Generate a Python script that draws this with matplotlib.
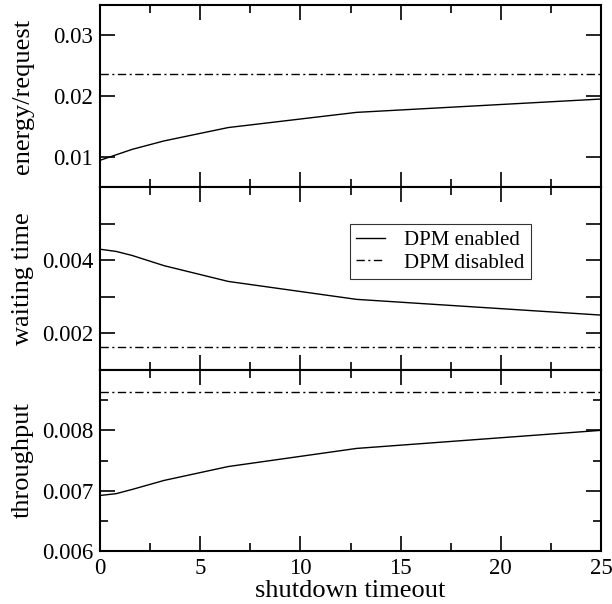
import numpy as np
import matplotlib.pyplot as plt
from matplotlib.ticker import MultipleLocator

plt.rcParams["font.family"] = ["Liberation Serif", "DejaVu Serif"]
plt.rcParams["font.size"] = 16.5

# ---------------------------------------------------------------------------
# Data
# ---------------------------------------------------------------------------
timeout = [0, 0.8, 1.6, 3.2, 6.4, 12.8, 25]

energy_on = [0.0094, 0.0103, 0.0112, 0.0126, 0.0148, 0.0173, 0.0195]
energy_off = 0.0236

wait_on = [0.00430, 0.00424, 0.00413, 0.00385, 0.00342, 0.00293, 0.00250]
wait_off = 0.00162

thru_on = [0.00692, 0.00695, 0.00702, 0.00717, 0.00740, 0.00770, 0.00800]
thru_off = 0.00864

# label, enabled, disabled, ylim, y tick step, minor step, labelled ticks
panels = [
    ("energy/request", energy_on, energy_off, (0.005, 0.035), 0.01, None,
     [0.01, 0.02, 0.03], "{:.2f}"),
    ("waiting time", wait_on, wait_off, (0.001, 0.006), 0.001, None,
     [0.002, 0.004], "{:.3f}"),
    ("throughput", thru_on, thru_off, (0.006, 0.009), 0.001, 0.0005,
     [0.006, 0.007, 0.008], "{:.3f}"),
]

# ---------------------------------------------------------------------------
# Figure
# ---------------------------------------------------------------------------
W, H = 612, 604
fig = plt.figure(figsize=(W / 100, H / 100), dpi=100)

left, right = 100 / W, 601 / W
edges = [5, 187, 370, 551]
dash_dot = (0, (6, 2.5, 1.5, 2.5))

axes = []
for i, (label, on, off, ylim, major, minor, shown, fmt) in enumerate(panels):
    top = 1 - edges[i] / H
    bot = 1 - edges[i + 1] / H
    ax = fig.add_axes([left, bot, right - left, top - bot])
    axes.append(ax)

    ax.plot(timeout, on, color="black", lw=1.0, label="DPM enabled")
    ax.plot([0, 25], [off, off], color="black", lw=1.0, linestyle=dash_dot,
            label="DPM disabled")

    ax.set_xlim(0, 25)
    ax.set_ylim(*ylim)
    ax.xaxis.set_major_locator(MultipleLocator(5))
    ax.xaxis.set_minor_locator(MultipleLocator(2.5))
    ax.yaxis.set_major_locator(MultipleLocator(major))
    if minor:
        ax.yaxis.set_minor_locator(MultipleLocator(minor))
    ax.tick_params(which="both", direction="in", top=True, right=True, width=1.2)
    ax.tick_params(which="major", length=11, pad=5)
    ax.tick_params(which="minor", length=6)
    for s in ax.spines.values():
        s.set_linewidth(1.5)

    ticks = [t for t in ax.get_yticks() if ylim[0] - 1e-12 <= t <= ylim[1] + 1e-12]
    ax.set_yticks(ticks)
    ax.set_yticklabels([fmt.format(t) if any(abs(t - s) < 1e-9 for s in shown)
                        else "" for t in ticks])

    ax.set_ylabel(label, fontsize=19)
    ax.yaxis.set_label_coords(-0.132, 0.5)

    if i < 2:
        ax.tick_params(labelbottom=False)

leg = axes[1].legend(loc="upper left", bbox_to_anchor=(0.499, 0.798),
                     frameon=True, fancybox=False, edgecolor="black",
                     fontsize=15, handlelength=1.4, borderpad=0.3,
                     labelspacing=0.15, handletextpad=0.9, borderaxespad=0.0)
leg.get_frame().set_linewidth(0.8)

axes[2].set_xlabel("shutdown timeout", fontsize=19, labelpad=1)

fig.savefig("out.png", dpi=100)
